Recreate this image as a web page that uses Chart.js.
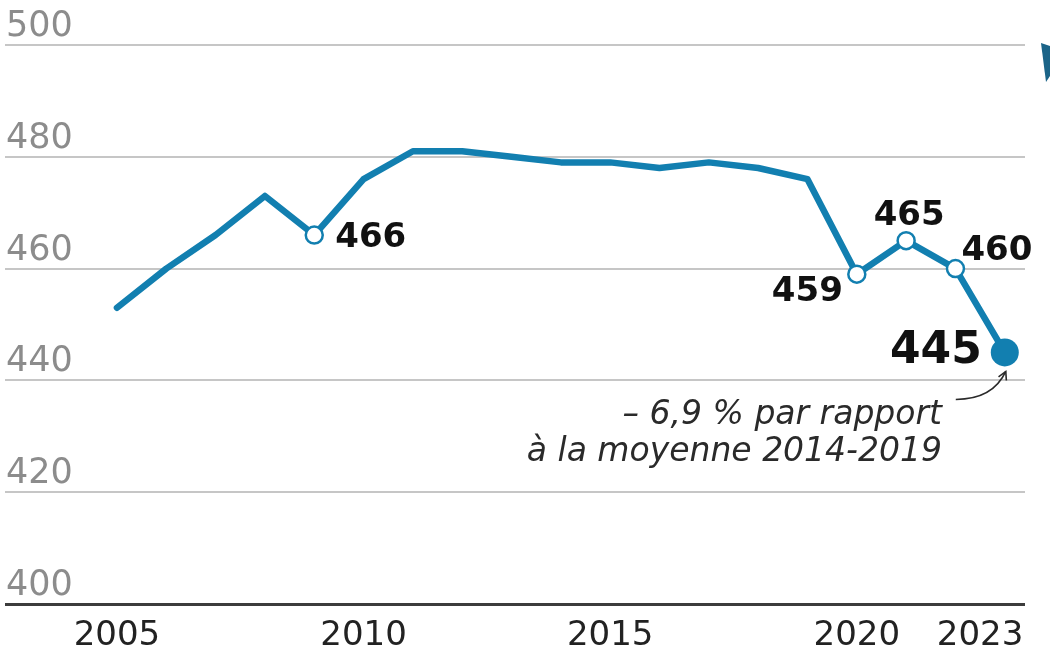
<!DOCTYPE html>
<html lang="fr">
<head>
  <meta charset="UTF-8" />
  <title>Évolution 2005-2023</title>
  <script src="https://cdn.jsdelivr.net/npm/chart.js@4.4.1/dist/chart.umd.min.js"></script>
  <style>
    *{margin:0;padding:0;box-sizing:border-box}
    body{background:#fff;width:1050px;height:657px;overflow:hidden}
    .wrap{position:relative;width:1050px;height:657px}
  </style>
</head>
<body>
  <div class="wrap"><canvas id="chart"></canvas></div>
  <script>
    // data
    const years = [2005,2006,2007,2008,2009,2010,2011,2012,2013,2014,2015,2016,2017,2018,2019,2020,2021,2022,2023];
    const values = [453,460,466,473,466,476,481,481,480,479,479,478,479,478,476,459,465,460,445];
    const tickYears = [2005,2010,2015,2020,2023];
    const tickLabels = ['2005','2010','2015','2020','2023'];
    const yTicks = [400,420,440,460,480,500];
    const noteLines = ['– 6,9 % par rapport','à la moyenne 2014-2019'];

    const blue = '#127fb0';
    const openIdx = [4,15,16,17];
    const lastIdx = values.length - 1;

    // labels next to the marked points
    const valueLabels = {
      id:'valueLabels',
      afterDatasetsDraw(chart){
        const ctx = chart.ctx;
        const pts = chart.getDatasetMeta(0).data;
        ctx.save();
        ctx.fillStyle = '#111';
        ctx.textBaseline = 'middle';
        const put = (i, dx, dy, align, size) => {
          const p = pts[i];
          ctx.font = 'bold ' + size + 'px "DejaVu Sans"';
          ctx.textAlign = align;
          ctx.fillText(String(values[i]), p.x + dx, p.y + dy);
        };
        put(4, 21, 3, 'left', 34);
        put(15, -14, 18, 'right', 34);
        put(16, 3, -24, 'center', 34);
        put(17, 6, -17, 'left', 34);
        put(lastIdx, -23, -1, 'right', 44);

        // note + arrow
        const p = pts[lastIdx];
        ctx.fillStyle = '#2a2a2a';
        ctx.font = 'italic 33px "DejaVu Sans"';
        ctx.textAlign = 'right';
        ctx.textBaseline = 'alphabetic';
        ctx.fillText(noteLines[0], 942, 424);
        ctx.fillText(noteLines[1], 942, 461);

        const sx = p.x - 49, sy = p.y + 47, cx = p.x - 12, cy = p.y + 47, ex = p.x + 1, ey = p.y + 19;
        ctx.strokeStyle = '#2a2a2a';
        ctx.lineWidth = 1.6;
        ctx.beginPath();
        ctx.moveTo(sx, sy);
        ctx.quadraticCurveTo(cx, cy, ex, ey);
        ctx.stroke();
        const a = Math.atan2(ey - cy, ex - cx);
        ctx.beginPath();
        ctx.moveTo(ex - 9 * Math.cos(a - 0.5), ey - 9 * Math.sin(a - 0.5));
        ctx.lineTo(ex, ey);
        ctx.lineTo(ex - 9 * Math.cos(a + 0.5), ey - 9 * Math.sin(a + 0.5));
        ctx.stroke();

        // clipped shape at the top right edge
        ctx.fillStyle = '#1b6488';
        ctx.beginPath();
        ctx.moveTo(1041, 43);
        ctx.lineTo(1050, 46);
        ctx.lineTo(1050, 76);
        ctx.lineTo(1046, 82);
        ctx.closePath();
        ctx.fill();
        ctx.restore();
      }
    };

    new Chart(document.getElementById('chart'), {
      type:'line',
      data:{
        datasets:[{
          data: years.map((y,i) => ({x:y, y:values[i]})),
          borderColor: blue,
          borderWidth: 6.5,
          borderJoinStyle: 'round',
          borderCapStyle: 'round',
          tension: 0,
          clip: false,
          pointRadius: ctx => ctx.dataIndex === lastIdx ? 14 : (openIdx.includes(ctx.dataIndex) ? 8.5 : 0),
          pointBackgroundColor: ctx => ctx.dataIndex === lastIdx ? blue : '#fff',
          pointBorderColor: blue,
          pointBorderWidth: ctx => ctx.dataIndex === lastIdx ? 0 : 2.5,
          pointHoverRadius: 0
        }]
      },
      options:{
        responsive:true,
        maintainAspectRatio:false,
        animation:false,
        layout:{autoPadding:false,padding:{left:5,right:25,top:45,bottom:0}},
        plugins:{legend:{display:false},tooltip:{enabled:false}},
        scales:{
          x:{
            type:'linear',
            min:2002.73,
            max:2023.41,
            grid:{display:false,drawTicks:false},
            border:{display:false},
            afterBuildTicks: s => {
              // the last label sits flush with the right end of the axis
              s.ticks = tickYears.map(y => ({value: y === 2023 ? y - 0.5 : y}));
            },
            afterFit: s => { s.paddingLeft = 0; s.paddingRight = 0; s.height = 53; },
            ticks:{
              autoSkip:false,
              maxRotation:0,
              padding:12,
              color:'#222',
              font:{family:'"DejaVu Sans"',size:34},
              callback:(v,i) => tickLabels[i]
            }
          },
          y:{
            min:400,
            max:500,
            afterBuildTicks: s => { s.ticks = yTicks.map(v => ({value:v})); },
            afterFit: s => { s.width = 0; s.paddingTop = 0; s.paddingBottom = 0; },
            border:{display:false},
            grid:{
              drawTicks:false,
              color: c => c.tick.value === 400 ? '#3c3c3c' : '#c6c6c6',
              lineWidth: c => c.tick.value === 400 ? 3 : 2
            },
            ticks:{
              mirror:true,
              padding:1,
              labelOffset:-18,
              color:'#8c8c8c',
              font:{family:'"DejaVu Sans"',size:35}
            }
          }
        }
      },
      plugins:[valueLabels]
    });
  </script>
</body>
</html>
